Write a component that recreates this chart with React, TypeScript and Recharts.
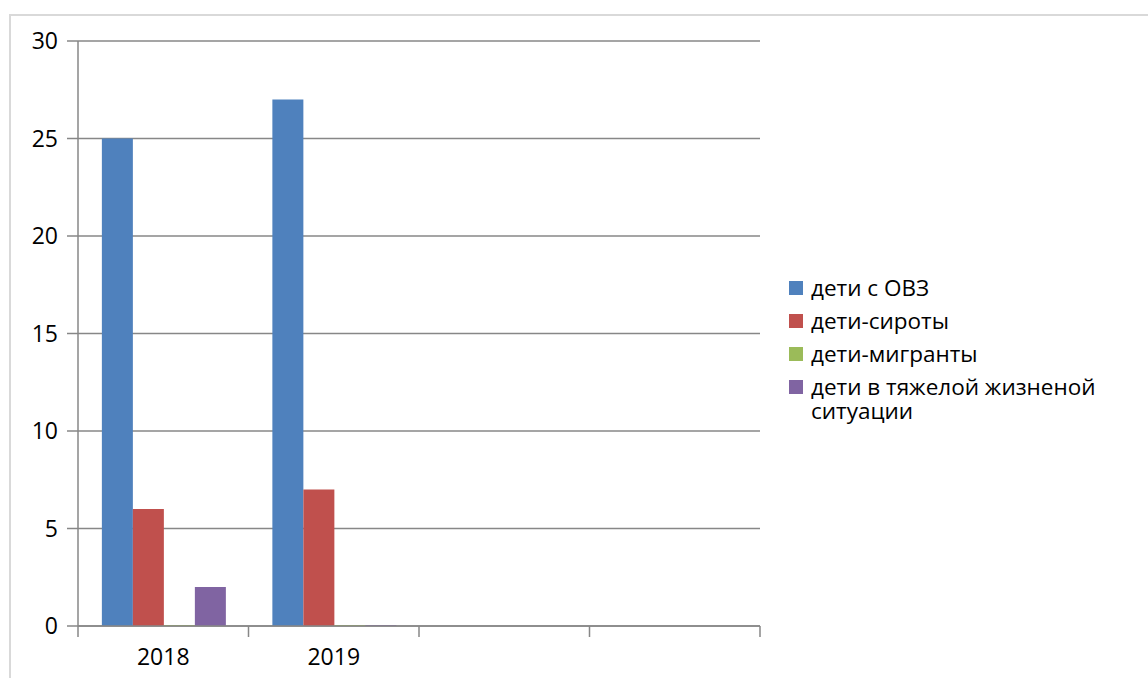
import React from 'react';
import { BarChart, Bar, XAxis, YAxis, CartesianGrid, Legend } from 'recharts';

const categories = ['2018', '2019', '', ' '];
const ovz = [25, 27, null, null];
const orphans = [6, 7, null, null];
const migrants = [0, 0, null, null];
const hardLife = [2, 0, null, null];
const yTicks = [0, 5, 10, 15, 20, 25, 30];

const series = [
  { key: 'ovz', name: 'дети с ОВЗ', color: '#4f81bd', values: ovz },
  { key: 'orphans', name: 'дети-сироты', color: '#c0504d', values: orphans },
  { key: 'migrants', name: 'дети-мигранты', color: '#9bbb59', values: migrants },
  { key: 'hardLife', name: 'дети в тяжелой жизненой ситуации', color: '#8064a2', values: hardLife },
];

const data = categories.map((name, i) => {
  const row: Record<string, any> = { name };
  series.forEach((s) => {
    row[s.key] = s.values[i];
  });
  return row;
});

const FONT = '"Open Sans", sans-serif';
const AXIS = '#878787';
const TICK = 11;
const TICK_GAP = 12;

// ticks sit on the category edges, like Excel does
const XTick = (props: any) => {
  const { x, y, payload, index, visibleTicksCount } = props;
  const half = payload.offset || 0;
  const axisY = y - TICK - TICK_GAP;
  const last = index === visibleTicksCount - 1;
  return (
    <g>
      <line x1={x - half} x2={x - half} y1={axisY} y2={axisY + TICK} stroke={AXIS} strokeWidth={1.5} />
      {last && <line x1={x + half} x2={x + half} y1={axisY} y2={axisY + TICK} stroke={AXIS} strokeWidth={1.5} />}
      <text x={x} y={y} dy="0.71em" textAnchor="middle" fontSize={23} fontFamily={FONT} fill="#000">
        {payload.value}
      </text>
    </g>
  );
};

const LegendBox = () => (
  <div style={{ fontFamily: FONT, fontSize: 22.5, lineHeight: '24px', color: '#000' }}>
    {series.map((s) => (
      <div key={s.key} style={{ display: 'flex', alignItems: 'flex-start', marginBottom: 9 }}>
        <div style={{ width: 14, height: 14, background: s.color, marginTop: 5, marginRight: 8, flexShrink: 0 }} />
        <div style={{ width: 320 }}>{s.name}</div>
      </div>
    ))}
  </div>
);

const zeroLine = (v: any) => (v === 0 ? 1 : 0);

export default function App() {
  return (
    <div style={{ position: 'absolute', left: 0, top: 0, width: 1148, height: 678, overflow: 'hidden', background: '#fff' }}>
      <div
        style={{
          position: 'absolute',
          left: 9,
          top: 14,
          width: 1139,
          height: 664,
          borderLeft: '2px solid #d9d9d9',
          borderTop: '2px solid #d9d9d9',
          boxSizing: 'border-box',
        }}
      />
      <div style={{ position: 'absolute', left: 0, top: 0 }}>
        <BarChart
          width={1148}
          height={678}
          data={data}
          margin={{ top: 41, right: 388, left: 0, bottom: 0 }}
          barCategoryGap="14%"
          barGap={0}
        >
          <CartesianGrid vertical={false} stroke={AXIS} strokeWidth={1.3} />
          <XAxis
            dataKey="name"
            height={52}
            axisLine={{ stroke: AXIS, strokeWidth: 1.5 }}
            tickLine={false}
            tickSize={TICK}
            tickMargin={TICK_GAP}
            interval={0}
            tick={<XTick />}
          />
          <YAxis
            width={78}
            domain={[0, 30]}
            ticks={yTicks}
            interval={0}
            axisLine={{ stroke: AXIS, strokeWidth: 1.5 }}
            tickLine={{ stroke: AXIS, strokeWidth: 1.5 }}
            tickSize={TICK}
            tickMargin={9}
            tick={{ fontSize: 23, fontFamily: FONT, fill: '#000' }}
          />
          <Legend
            layout="horizontal"
            align="center"
            verticalAlign="middle"
            wrapperStyle={{ left: 789, top: 276, width: 350 }}
            content={<LegendBox />}
          />
          {series.map((s) => (
            <Bar
              key={s.key}
              dataKey={s.key}
              name={s.name}
              fill={s.color}
              minPointSize={zeroLine}
              isAnimationActive={false}
            />
          ))}
        </BarChart>
      </div>
    </div>
  );
}
